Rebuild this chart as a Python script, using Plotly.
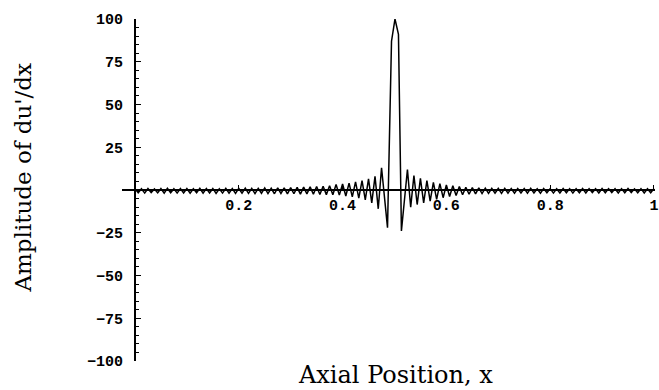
import plotly.graph_objects as go

# ---- data (extrema of the oscillating signal) ----
left_x = [0, 0.00625, 0.0125, 0.01875, 0.025, 0.03125, 0.0375, 0.04375, 0.05, 0.05625,
          0.0625, 0.06875, 0.075, 0.08125, 0.0875, 0.09375, 0.1, 0.10625, 0.1125, 0.11875,
          0.125, 0.13125, 0.1375, 0.14375, 0.15, 0.15625, 0.1625, 0.16875, 0.175, 0.18125,
          0.1875, 0.19375, 0.2, 0.20625, 0.2125, 0.21875, 0.225, 0.23125, 0.2375, 0.24375,
          0.25, 0.25625, 0.2625, 0.26875, 0.275, 0.28125, 0.2875, 0.29375, 0.3, 0.30625,
          0.3125, 0.31875, 0.325, 0.33125, 0.3375, 0.34375, 0.35, 0.35625, 0.3625, 0.36875,
          0.375, 0.38125, 0.3875, 0.39375, 0.4, 0.40625, 0.4125, 0.41875, 0.425, 0.43125,
          0.4375, 0.44375, 0.45, 0.45625, 0.4625]
left_y = [0.8, -1.6, 0.7, -1.8, 0.9, -1.5, 0.6, -1.7, 0.8, -1.9,
          1.0, -1.6, 0.7, -1.8, 0.9, -1.7, 0.8, -1.9, 0.7, -1.6,
          1.0, -1.8, 0.8, -1.7, 0.9, -2.0, 0.7, -1.8, 1.0, -1.9,
          0.8, -2.0, 0.9, -1.8, 1.1, -2.0, 0.9, -2.1, 1.0, -1.9,
          1.2, -2.1, 1.0, -2.2, 1.3, -2.0, 1.2, -2.3, 1.4, -2.2,
          1.5, -2.4, 1.7, -2.3, 1.8, -2.5, 2.0, -2.6, 2.2, -2.7,
          2.5, -2.8, 3.2, -3.0, 3.5, -3.5, 4.0, -4.0, 4.8, -4.8,
          5.5, -5.8, 6.5, -7.5, 8.0]

center_x = [0.46875, 0.4751, 0.4866, 0.4943, 0.501, 0.5077, 0.5134, 0.525]
center_y = [-11, 13, -22, 87, 100, 91, -24, 12]

right_x = [0.53125, 0.5375, 0.54375, 0.55, 0.55625, 0.5625, 0.56875, 0.575, 0.58125, 0.5875,
           0.59375, 0.6, 0.60625, 0.6125, 0.61875, 0.625, 0.63125, 0.6375, 0.64375, 0.65,
           0.65625, 0.6625, 0.66875, 0.675, 0.68125, 0.6875, 0.69375, 0.7, 0.70625, 0.7125,
           0.71875, 0.725, 0.73125, 0.7375, 0.74375, 0.75, 0.75625, 0.7625, 0.76875, 0.775,
           0.78125, 0.7875, 0.79375, 0.8, 0.80625, 0.8125, 0.81875, 0.825, 0.83125, 0.8375,
           0.84375, 0.85, 0.85625, 0.8625, 0.86875, 0.875, 0.88125, 0.8875, 0.89375, 0.9,
           0.90625, 0.9125, 0.91875, 0.925, 0.93125, 0.9375, 0.94375, 0.95, 0.95625, 0.9625,
           0.96875, 0.975, 0.98125, 0.9875, 0.99375, 1.0]
right_y = [-10, 8.5, -8.5, 6.8, -7.5, 5.5, -6.5, 4.5, -5.5, 3.7,
           -4.5, 3.0, -3.8, 2.5, -3.2, 2.0, -2.8, 1.6, -2.5, 1.4,
           -2.3, 1.2, -2.1, 1.1, -2.0, 1.0, -1.9, 0.9, -2.0, 1.0,
           -1.8, 0.8, -1.9, 0.9, -1.7, 0.8, -1.8, 1.0, -1.7, 0.7,
           -1.9, 0.9, -1.6, 0.8, -1.8, 0.7, -1.7, 0.9, -1.6, 0.8,
           -1.8, 0.7, -1.6, 0.9, -1.7, 0.8, -1.5, 0.7, -1.7, 0.9,
           -1.6, 0.8, -1.5, 0.7, -1.7, 0.8, -1.6, 0.9, -1.5, 0.7,
           -1.6, 0.8, -1.7, 0.7, -1.6, 0.8]

x_tickvals = [0.2, 0.4, 0.6, 0.8, 1.0]
x_ticktext = ["0.2", "0.4", "0.6", "0.8", "1"]
y_tickvals = [-100, -75, -50, -25, 25, 50, 75, 100]
y_ticktext = ["\u2212100", "\u221275", "\u221250", "\u221225", "25", "50", "75", "100"]

assert len(left_x) == len(left_y)
assert len(right_x) == len(right_y)

xs = left_x + center_x + right_x
ys = left_y + center_y + right_y

fig = go.Figure()
fig.add_trace(go.Scatter(x=xs, y=ys, mode="lines",
                         line=dict(color="black", width=1.5),
                         hoverinfo="skip", showlegend=False))

W, H = 659, 390
ml, mr, mt, mb = 122, 1, 19, 29
plot_w = W - ml - mr
xmin, xmax = -0.025, 1.002
ypos_frac = (0 - xmin) / (xmax - xmin)

tickfont = dict(family="Liberation Mono", size=15, color="black", weight="bold")

fig.update_layout(
    width=W, height=H,
    margin=dict(l=ml, r=mr, t=mt, b=mb, pad=0),
    paper_bgcolor="white", plot_bgcolor="white",
    xaxis=dict(range=[xmin, xmax], anchor="free", position=0.5,
               showline=True, linecolor="black", linewidth=1.5,
               showgrid=False, zeroline=False,
               tickmode="array", tickvals=x_tickvals, ticktext=x_ticktext,
               ticks="inside", ticklen=4, tickwidth=1, tickcolor="black",
               ticklabelstandoff=1, ticklabeloverflow="allow",
               tickfont=tickfont),
    yaxis=dict(range=[-100, 100], anchor="free", position=ypos_frac,
               showline=True, linecolor="black", linewidth=2,
               showgrid=False, zeroline=False,
               tickmode="array", tickvals=y_tickvals, ticktext=y_ticktext,
               ticks="inside", ticklen=5, tickwidth=1, tickcolor="black",
               ticklabelstandoff=8, ticklabeloverflow="allow",
               tickfont=tickfont,
               minor=dict(tickmode="linear", tick0=0, dtick=5, ticks="inside",
                          ticklen=3, tickwidth=1, tickcolor="black")),
    annotations=[
        dict(text="Axial Position, x", xref="paper", yref="paper",
             x=(397 - ml) / plot_w, y=(H - 375 - mb) / (H - mt - mb),
             showarrow=False, xanchor="center", yanchor="middle",
             font=dict(family="DejaVu Serif", size=24, color="black")),
        dict(text="Amplitude of du'/dx", xref="paper", yref="paper",
             x=(22 - ml) / plot_w, y=(H - 178 - mb) / (H - mt - mb),
             showarrow=False, xanchor="center", yanchor="middle", textangle=-90,
             font=dict(family="DejaVu Serif", size=23, color="black")),
    ],
)

fig.write_html("out.html")
